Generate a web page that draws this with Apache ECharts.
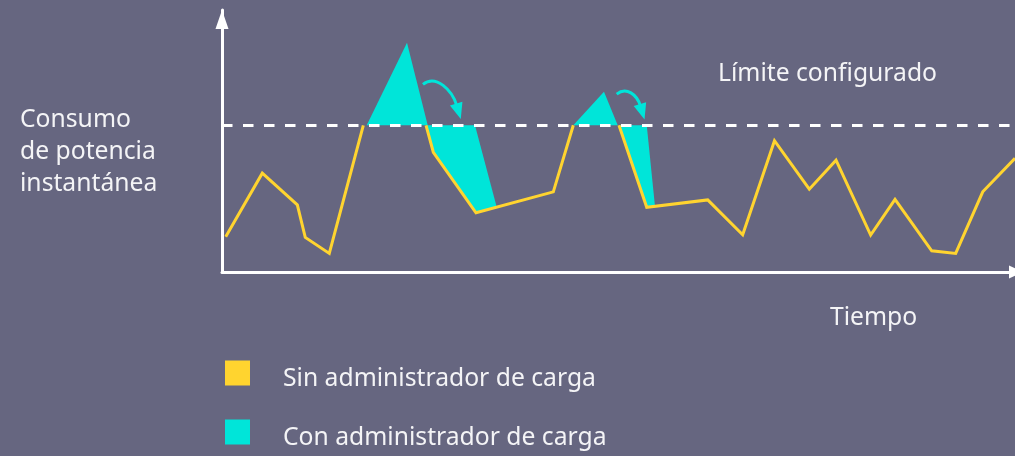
<!DOCTYPE html>
<html>
<head>
<meta charset="utf-8">
<script src="https://cdn.jsdelivr.net/npm/echarts@6/dist/echarts.min.js"></script>
<style>
  html, body { margin: 0; padding: 0; background: #666680; }
  #chart { width: 1015px; height: 456px; }
</style>
</head>
<body>
<div id="chart"></div>
<script>
// Consumption without load management (null marks where the curve is cut at the limit)
const tiempo = [0.47, 5.08, 9.50, 10.50, 13.53, 17.82, null, 25.73, 26.65, 32.03, 41.78, 44.30, null,
                50.06, 53.56, 61.25, 65.66, 69.67, 74.06, 77.43, 81.80, 84.87, 89.50, 92.52, 95.93, 100];
const consumoSin = [13.5, 37.7, 25.6, 13.2, 7.1, 56, null, 56, 45.7, 22.6, 30.6, 56, null,
                    56, 24.7, 27.5, 14.2, 50.1, 31.6, 42.7, 14.1, 27.7, 8.1, 7.1, 30.6, 43.4];

// Configured power limit
const limite = 56;

// Areas with load management: peaks above the limit and where they are shifted to
const areaT = [
  [18.25, 23.33, 25.94],
  [25.73, 31.90, 34.64, 32.03, 26.65],
  [44.30, 48.17, 49.90],
  [50.06, 53.56, 54.60, 53.56]
];
const areaP = [
  [56, 87.5, 56],
  [56, 56, 24.8, 22.6, 45.7],
  [56, 68.8, 56],
  [56, 56, 25.1, 24.7]
];

// Curved arrows showing the shift of each peak
const flechaInicioT = [25.34, 49.77];
const flechaInicioP = [71.6, 67.9];
const flechaPuntaT = [30.11, 53.28];
const flechaPuntaP = [58.4, 58.2];

const nombreSin = 'Sin administrador de carga';
const nombreCon = 'Con administrador de carga';
const ejeY = 'Consumo\nde potencia\ninstantánea';
const ejeX = 'Tiempo';
const textoLimite = 'Límite configurado';

const AMARILLO = '#FFD42F';
const CIAN = '#00E5D9';
const TEXTO = '#F4F4F6';
const FUENTE = '"Noto Sans", "Open Sans", sans-serif';
const TAM = 24.7;

const lineaSin = tiempo.map((t, i) => [t, consumoSin[i]]);
const areas = areaT.map((_, i) => [i]);
const flechas = flechaInicioT.map((_, i) => [i]);

const chart = echarts.init(document.getElementById('chart'), null, { renderer: 'canvas' });

const option = {
  backgroundColor: '#666680',
  animation: false,
  grid: { left: 222, right: 0, top: 10, bottom: 184 },
  xAxis: {
    type: 'value', min: 0, max: 100,
    axisLine: {
      show: true, onZero: false,
      lineStyle: { color: '#FFFFFF', width: 3 },
      symbol: ['none', 'triangle'], symbolSize: [13, 14], symbolOffset: [0, 1]
    },
    axisTick: { show: false }, axisLabel: { show: false }, splitLine: { show: false }
  },
  yAxis: {
    type: 'value', min: 0, max: 100,
    axisLine: {
      show: true, onZero: false,
      lineStyle: { color: '#FFFFFF', width: 3 },
      symbol: ['none', 'triangle'], symbolSize: [13, 19], symbolOffset: [0, -9.5]
    },
    axisTick: { show: false }, axisLabel: { show: false }, splitLine: { show: false }
  },
  legend: {
    orient: 'vertical', left: 225, top: 355, padding: 0,
    itemWidth: 25, itemHeight: 25, itemGap: 23,
    icon: 'rect', selectedMode: false,
    data: [nombreSin, nombreCon],
    formatter: function (name) { return '{t|' + name + '}'; },
    textStyle: {
      color: TEXTO, fontSize: TAM, fontFamily: FUENTE,
      rich: {
        t: { color: TEXTO, fontSize: TAM, fontFamily: FUENTE, lineHeight: 24,
             padding: [11, 0, 0, 28] }
      }
    }
  },
  graphic: [
    { type: 'text', x: 20, y: 152,
      style: { text: ejeY, fill: TEXTO, fontSize: TAM, fontFamily: FUENTE, lineHeight: 32,
               verticalAlign: 'middle', align: 'left' } },
    { type: 'text', x: 718, y: 74,
      style: { text: textoLimite, fill: TEXTO, fontSize: TAM, fontFamily: FUENTE,
               verticalAlign: 'middle', align: 'left' } },
    { type: 'text', x: 830, y: 318,
      style: { text: ejeX, fill: TEXTO, fontSize: TAM, fontFamily: FUENTE,
               verticalAlign: 'middle', align: 'left' } }
  ],
  series: [
    {
      name: nombreCon,
      type: 'custom',
      z: 2,
      color: CIAN,
      itemStyle: { color: CIAN },
      data: areas,
      renderItem: function (params, api) {
        const i = api.value(0);
        const pts = areaT[i].map((t, k) => api.coord([t, areaP[i][k]]));
        return { type: 'polygon', shape: { points: pts }, style: { fill: CIAN } };
      }
    },
    {
      name: 'flechas',
      type: 'custom',
      z: 2,
      color: CIAN,
      data: flechas,
      renderItem: function (params, api) {
        const i = api.value(0);
        const S = api.coord([flechaInicioT[i], flechaInicioP[i]]);
        const T = api.coord([flechaPuntaT[i], flechaPuntaP[i]]);
        const dx = T[0] - S[0], dy = T[1] - S[1];
        const ux = 0.287, uy = 0.958;      // head direction (down and slightly right)
        const L = 16, W = 6.5;
        const B = [T[0] - ux * L, T[1] - uy * L];
        const nx = uy, ny = -ux;
        const C1 = [S[0] + dx * 0.35, S[1] - dy * 0.3];
        const C2 = [B[0] - ux * dy * 0.4, B[1] - uy * dy * 0.4];
        return {
          type: 'group',
          children: [
            { type: 'bezierCurve',
              shape: { x1: S[0], y1: S[1], cpx1: C1[0], cpy1: C1[1], cpx2: C2[0], cpy2: C2[1],
                       x2: B[0] + ux * 2, y2: B[1] + uy * 2 },
              style: { stroke: CIAN, lineWidth: 3, fill: null } },
            { type: 'polygon',
              shape: { points: [T, [B[0] + nx * W, B[1] + ny * W], [B[0] - nx * W, B[1] - ny * W]] },
              style: { fill: CIAN } }
          ]
        };
      }
    },
    {
      name: nombreSin,
      type: 'line',
      z: 3,
      color: AMARILLO,
      data: lineaSin,
      showSymbol: false,
      connectNulls: false,
      lineStyle: { color: AMARILLO, width: 3, join: 'miter' },
      markLine: {
        silent: true,
        symbol: ['none', 'none'],
        label: { show: false },
        lineStyle: { color: '#FFFFFF', width: 3, type: [10.5, 10.5] },
        data: [{ yAxis: limite }]
      }
    }
  ]
};

chart.setOption(option);
</script>
</body>
</html>
